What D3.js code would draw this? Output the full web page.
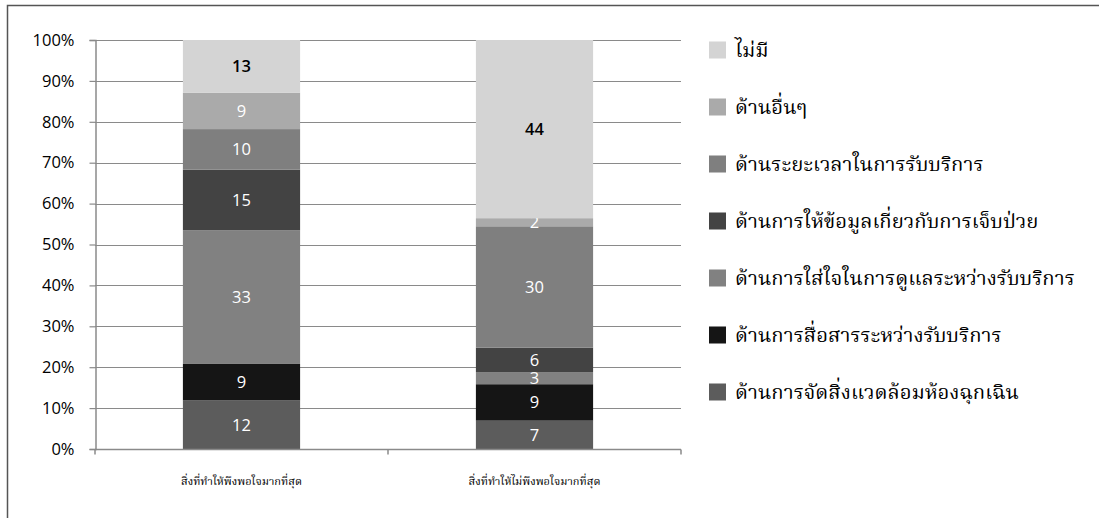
<!DOCTYPE html>
<html><head><meta charset="utf-8">
<script src="https://cdn.jsdelivr.net/npm/d3@7"></script>
<style>body{margin:0;background:#fff;} svg{display:block;}</style>
</head><body><svg id="c" width="1099" height="518"></svg>
<script>
const categories = ["สิ่งที่ทำให้พึงพอใจมากที่สุด", "สิ่งที่ทำให้ไม่พึงพอใจมากที่สุด"];
const seriesNames = [
  "ด้านการจัดสิ่งแวดล้อมห้องฉุกเฉิน",
  "ด้านการสื่อสารระหว่างรับบริการ",
  "ด้านการใส่ใจในการดูแลระหว่างรับบริการ",
  "ด้านการให้ข้อมูลเกี่ยวกับการเจ็บป่วย",
  "ด้านระยะเวลาในการรับบริการ",
  "ด้านอื่นๆ",
  "ไม่มี"
];
const envValues   = [12, 7];
const commValues  = [9, 9];
const careValues  = [33, 3];
const infoValues  = [15, 6];
const timeValues  = [10, 30];
const otherValues = [9, 2];
const noneValues  = [13, 44];
const seriesColors = ["#5c5c5c", "#151515", "#818181", "#434343", "#7f7f7f", "#aaaaaa", "#d4d4d4"];
const labelColors  = ["#fff", "#fff", "#fff", "#fff", "#fff", "#fff", "#000"];
const yTicks = [0, 0.1, 0.2, 0.3, 0.4, 0.5, 0.6, 0.7, 0.8, 0.9, 1.0];

const thaiSerif = "'Noto Serif Thai', 'Norasi', 'Garuda', 'Liberation Serif', serif";
const seriesValues = [envValues, commValues, careValues, infoValues, timeValues, otherValues, noneValues];
const rows = categories.map((c, i) => {
  const r = {cat: c};
  seriesNames.forEach((s, j) => r[s] = seriesValues[j][i]);
  return r;
});
const stacked = d3.stack().keys(seriesNames).offset(d3.stackOffsetExpand)(rows);

const svg = d3.select("#c");
svg.append("rect").attr("x", 7.5).attr("y", 5.5).attr("width", 1200).attr("height", 600)
  .attr("fill", "none").attr("stroke", "#555").attr("stroke-width", 1.5);

const x = d3.scaleBand().domain(categories).range([95, 681]).paddingInner(0.6).paddingOuter(0.3);
const y = d3.scaleLinear().domain([0, 1]).range([449, 40]);

svg.append("g").selectAll("line").data(yTicks.slice(1)).join("line")
  .attr("x1", 95).attr("x2", 681)
  .attr("y1", d => Math.round(y(d)) + 0.5).attr("y2", d => Math.round(y(d)) + 0.5)
  .attr("stroke", "#8a8a8a").attr("stroke-width", 1.2);

const yAxis = svg.append("g").attr("transform", "translate(95.5,0)")
  .call(d3.axisLeft(y).tickValues(yTicks).tickFormat(d3.format(".0%")).tickSize(6).tickPadding(15));
yAxis.select(".domain").attr("stroke", "#8a8a8a").attr("stroke-width", 1.5);
yAxis.selectAll(".tick line").attr("stroke", "#8a8a8a").attr("stroke-width", 1.2);
yAxis.selectAll("text").attr("font-family", "'Open Sans', sans-serif").attr("font-size", 16.5).attr("fill", "#000");

const g = svg.append("g");
stacked.forEach((layer, j) => {
  g.append("g").selectAll("rect").data(layer).join("rect")
    .attr("x", d => x(d.data.cat))
    .attr("width", x.bandwidth())
    .attr("y", d => y(d[1]))
    .attr("height", d => y(d[0]) - y(d[1]))
    .attr("fill", seriesColors[j]);
  g.append("g").selectAll("text").data(layer).join("text")
    .attr("x", d => x(d.data.cat) + x.bandwidth() / 2)
    .attr("y", d => (y(d[0]) + y(d[1])) / 2)
    .attr("dy", "0.36em")
    .attr("text-anchor", "middle")
    .attr("font-family", "'Open Sans', sans-serif").attr("font-size", 16.5)
    .attr("font-weight", labelColors[j] === "#000" ? 600 : 400)
    .attr("fill", labelColors[j])
    .text(d => d.data[seriesNames[j]]);
});

const xAxisG = svg.append("g").attr("transform", "translate(0,449.5)");
xAxisG.append("line").attr("x1", 95).attr("x2", 681).attr("stroke", "#8a8a8a").attr("stroke-width", 1.5);
const bounds = [95, (x(categories[0]) + x.bandwidth() / 2 + x(categories[1]) + x.bandwidth() / 2) / 2, 681];
xAxisG.selectAll("line.t").data(bounds).join("line").attr("class", "t")
  .attr("x1", d => d).attr("x2", d => d).attr("y1", 0).attr("y2", 5)
  .attr("stroke", "#8a8a8a").attr("stroke-width", 1.5);
xAxisG.selectAll("text").data(categories).join("text")
  .attr("x", d => x(d) + x.bandwidth() / 2).attr("y", 35)
  .attr("text-anchor", "middle")
  .attr("font-family", thaiSerif).attr("font-size", 11)
  .text(d => d);

const legendOrder = seriesNames.map((s, j) => j).reverse();
const lg = svg.append("g");
legendOrder.forEach((j, k) => {
  const cy = 50 + k * 57;
  lg.append("rect").attr("x", 709).attr("y", cy - 8.5).attr("width", 17).attr("height", 17).attr("fill", seriesColors[j]);
  lg.append("text").attr("x", 735).attr("y", cy).attr("dy", "0.35em")
    .attr("font-family", thaiSerif).attr("font-size", 20.3).attr("fill", "#000")
    .text(seriesNames[j]);
});
</script></body></html>
